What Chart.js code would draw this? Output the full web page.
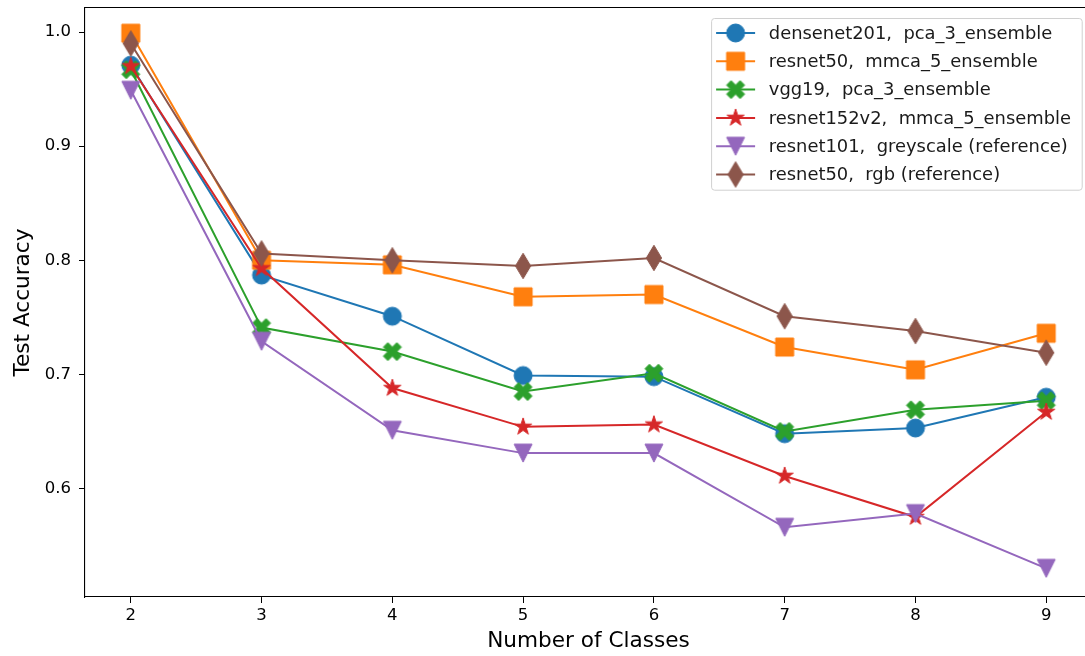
<!DOCTYPE html>
<html>
<head>
<meta charset="utf-8">
<script src="https://cdn.jsdelivr.net/npm/chart.js@4.4.1/dist/chart.umd.min.js"></script>
<style>
  html, body { margin: 0; padding: 0; background: #fff; overflow: hidden; }
  #wrap { position: relative; width: 1093px; height: 656px; }
</style>
</head>
<body>
<div id="wrap"><canvas id="chart" width="1093" height="656"></canvas></div>
<script>
// Number of classes on the x axis
const classCounts = [2, 3, 4, 5, 6, 7, 8, 9];

// Test accuracy per configuration
const densenet201Pca3 = [0.971, 0.787, 0.751, 0.699, 0.698, 0.648, 0.653, 0.680];
const resnet50Mmca5   = [0.999, 0.800, 0.796, 0.768, 0.770, 0.724, 0.704, 0.736];
const vgg19Pca3       = [0.967, 0.741, 0.720, 0.685, 0.701, 0.650, 0.669, 0.677];
const resnet152v2Mmca5 = [0.970, 0.793, 0.688, 0.654, 0.656, 0.611, 0.575, 0.667];
const resnet101Grey   = [0.949, 0.729, 0.651, 0.631, 0.631, 0.566, 0.578, 0.530];
const resnet50Rgb     = [0.990, 0.806, 0.800, 0.795, 0.802, 0.751, 0.738, 0.719];

const seriesLabels = [
  'densenet201,  pca_3_ensemble',
  'resnet50,  mmca_5_ensemble',
  'vgg19,  pca_3_ensemble',
  'resnet152v2,  mmca_5_ensemble',
  'resnet101,  greyscale (reference)',
  'resnet50,  rgb (reference)'
];

// Axis ticks
const xTickValues = [2, 3, 4, 5, 6, 7, 8, 9];
const yTickValues = [0.6, 0.7, 0.8, 0.9, 1.0];

const FONT = '"DejaVu Sans", sans-serif';
const colors = ['#1f77b4', '#ff7f0e', '#2ca02c', '#d62728', '#9467bd', '#8c564b'];
const markerKinds = ['circle', 'square', 'xfilled', 'star', 'triangleDown', 'thinDiamond'];
const MS = 18; // marker size in px

// Builds a small canvas holding one marker glyph, centred.
function makeMarker(kind, color) {
  const size = 34;
  const c = document.createElement('canvas');
  c.width = size; c.height = size;
  const g = c.getContext('2d');
  const cx = size / 2, cy = size / 2, h = MS / 2;
  g.fillStyle = color; g.strokeStyle = color; g.lineWidth = 1; g.lineJoin = 'miter';
  g.beginPath();
  if (kind === 'circle') {
    g.arc(cx, cy, h, 0, Math.PI * 2);
  } else if (kind === 'square') {
    g.rect(cx - h, cy - h, MS, MS);
  } else if (kind === 'xfilled') {
    const pts = [[-1,-2],[0,-1],[1,-2],[2,-1],[1,0],[2,1],[1,2],[0,1],[-1,2],[-2,1],[-1,0],[-2,-1]];
    pts.forEach((p, i) => {
      const x = cx + p[0] / 4 * MS, y = cy + p[1] / 4 * MS;
      i ? g.lineTo(x, y) : g.moveTo(x, y);
    });
    g.closePath();
  } else if (kind === 'star') {
    const inner = 0.381966 * h;
    for (let i = 0; i < 10; i++) {
      const r = i % 2 ? inner : h;
      const a = -Math.PI / 2 + i * Math.PI / 5;
      const x = cx + r * Math.cos(a), y = cy + r * Math.sin(a);
      i ? g.lineTo(x, y) : g.moveTo(x, y);
    }
    g.closePath();
  } else if (kind === 'triangleDown') {
    g.moveTo(cx, cy + h);
    g.lineTo(cx - h, cy - h);
    g.lineTo(cx + h, cy - h);
    g.closePath();
  } else if (kind === 'thinDiamond') {
    const hh = MS * Math.SQRT1_2, hw = hh * 0.6;
    g.moveTo(cx, cy - hh);
    g.lineTo(cx + hw, cy);
    g.lineTo(cx, cy + hh);
    g.lineTo(cx - hw, cy);
    g.closePath();
  }
  g.fill();
  g.stroke();
  return c;
}

const markers = markerKinds.map((k, i) => makeMarker(k, colors[i]));
const allSeries = [densenet201Pca3, resnet50Mmca5, vgg19Pca3, resnet152v2Mmca5, resnet101Grey, resnet50Rgb];

const datasets = allSeries.map((vals, i) => ({
  label: seriesLabels[i],
  data: classCounts.map((x, j) => ({ x: x, y: vals[j] })),
  borderColor: colors[i],
  backgroundColor: colors[i],
  borderWidth: 2,
  pointStyle: markers[i],
  pointRadius: 10,
  pointHoverRadius: 10,
  tension: 0,
  order: allSeries.length - i
}));

const LEGEND_FONT_SIZE = 17.9;

// Framed legend box drawn inside the plot, upper right
const legendBox = {
  id: 'legendBox',
  afterDraw(chart) {
    const ctx = chart.ctx, area = chart.chartArea;
    ctx.save();
    ctx.font = LEGEND_FONT_SIZE + 'px ' + FONT;
    const maxW = Math.max(...seriesLabels.map(s => ctx.measureText(s).width));
    const boxW = 57.7 + maxW + 10.7;
    const boxH = 171.7;
    const right = area.right - 10.3;
    const left = right - boxW;
    const top = area.top + 10;
    ctx.beginPath();
    ctx.roundRect(left + 0.5, top + 0.5, boxW, boxH, 3);
    ctx.fillStyle = 'rgba(255,255,255,0.8)';
    ctx.fill();
    ctx.strokeStyle = '#d0d0d0';
    ctx.lineWidth = 1;
    ctx.stroke();
    seriesLabels.forEach((label, i) => {
      const y = top + 15 + i * 28.3;
      ctx.beginPath();
      ctx.moveTo(left + 5, y);
      ctx.lineTo(left + 44, y);
      ctx.strokeStyle = colors[i];
      ctx.lineWidth = 2;
      ctx.stroke();
      const m = markers[i];
      ctx.drawImage(m, left + 24.5 - m.width / 2, y - m.height / 2);
      ctx.fillStyle = '#1a1a1a';
      ctx.textBaseline = 'middle';
      ctx.textAlign = 'left';
      ctx.fillText(label, left + 57.7, y + 1);
    });
    ctx.restore();
  }
};

new Chart(document.getElementById('chart'), {
  type: 'line',
  data: { datasets: datasets },
  plugins: [legendBox],
  options: {
    responsive: false,
    animation: false,
    events: [],
    layout: { autoPadding: false, padding: { left: 0, top: 8, right: 1, bottom: 0 } },
    plugins: { legend: { display: false }, tooltip: { enabled: false } },
    scales: {
      x: {
        type: 'linear',
        position: 'bottom',
        min: 1.65,
        max: 9.35,
        afterBuildTicks: s => { s.ticks = xTickValues.map(v => ({ value: v })); },
        afterFit: s => { s.height = 59; s.paddingLeft = 0; s.paddingRight = 0; },
        ticks: { color: '#000', font: { family: FONT, size: 16.5 }, padding: 3, maxRotation: 0,
                 callback: v => String(v) },
        grid: { drawOnChartArea: false, drawTicks: true, tickLength: 6, tickColor: '#000', tickWidth: 1 },
        border: { display: true, color: '#000', width: 1.1 },
        title: { display: true, text: 'Number of Classes', color: '#000',
                 font: { family: FONT, size: 21.6 }, padding: { top: 0, bottom: 2 } }
      },
      xTop: {
        type: 'linear',
        position: 'top',
        min: 1.65,
        max: 9.35,
        afterBuildTicks: s => { s.ticks = []; },
        afterFit: s => { s.height = 0; s.paddingLeft = 0; s.paddingRight = 0; },
        ticks: { display: false },
        grid: { display: true, drawOnChartArea: false, drawTicks: false },
        border: { display: true, color: '#000', width: 1.1 }
      },
      y: {
        type: 'linear',
        min: 0.5049,
        max: 1.0211,
        afterBuildTicks: s => { s.ticks = yTickValues.map(v => ({ value: v })); },
        afterFit: s => { s.width = 85; s.paddingTop = 0; s.paddingBottom = 0; },
        ticks: { color: '#000', font: { family: FONT, size: 16.5 }, padding: 8,
                 callback: v => v.toFixed(1) },
        grid: { drawOnChartArea: false, drawTicks: true, tickLength: 6, tickColor: '#000', tickWidth: 1 },
        border: { display: true, color: '#000', width: 1.1 },
        title: { display: true, text: 'Test Accuracy', color: '#000',
                 font: { family: FONT, size: 21.6 }, padding: { top: 10, bottom: 0 } }
      }
    }
  }
});
</script>
</body>
</html>
